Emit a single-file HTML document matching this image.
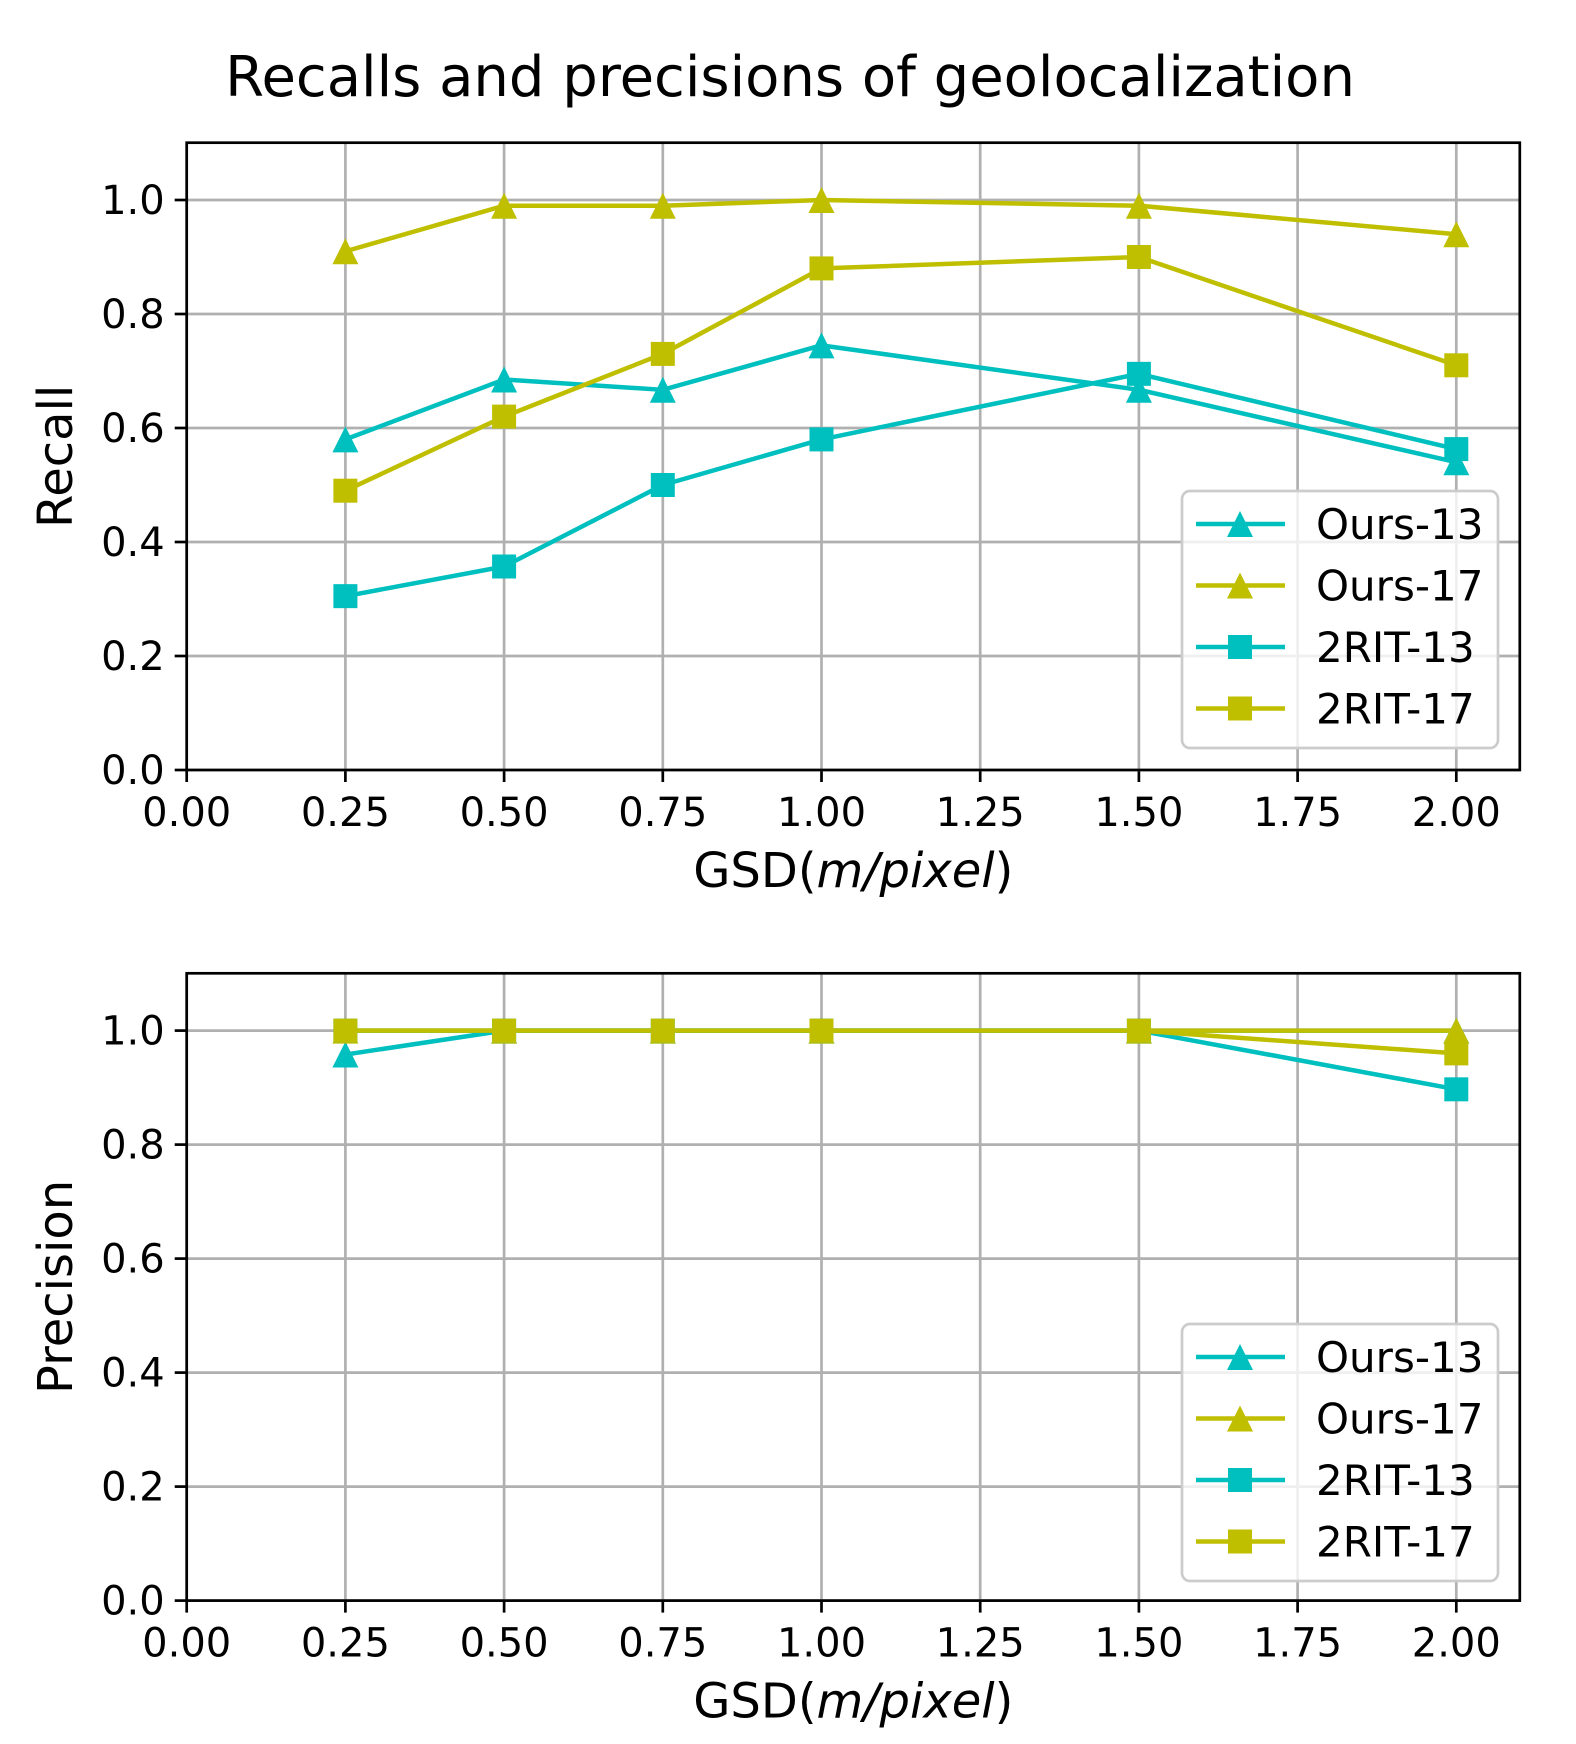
<!DOCTYPE html>
<html><head><meta charset="utf-8"><style>html,body{margin:0;padding:0;background:#fff}svg{display:block}</style></head><body>
<svg id="s" width="1576" height="1744" viewBox="0 0 1576 1744" xmlns="http://www.w3.org/2000/svg" font-family="'DejaVu Sans', 'Liberation Sans', sans-serif">
<rect width="1576" height="1744" fill="#fff"/>
<text x="790" y="96" font-size="56" text-anchor="middle">Recalls and precisions of geolocalization</text>
<g id="g"></g>
</svg>
<script>
const NS="http://www.w3.org/2000/svg";const g=document.getElementById('g');
function el(t,a,txt){const e=document.createElementNS(NS,t);for(const k in a)e.setAttribute(k,a[k]);if(txt!==undefined)e.textContent=txt;g.appendChild(e);return e;}
const X0=186.7,XS=634.8,XR=1519.8,C="#00bfbf",Y="#bfbf00";
const xs=[0.25,0.5,0.75,1,1.5,2];
function panel(top,bot,ylabel,series,leg){
  const ys=v=>bot-v*570;
  for(let i=0;i<=8;i++){const x=X0+i*0.25*XS;el('line',{x1:x,x2:x,y1:top,y2:bot,stroke:'#b0b0b0','stroke-width':2.7});
    el('line',{x1:x,x2:x,y1:bot,y2:bot+12,stroke:'#000','stroke-width':2.7});
    el('text',{x:x,y:bot+56,'font-size':40,'text-anchor':'middle'},(i*0.25).toFixed(2));}
  for(let i=0;i<=5;i++){const y=ys(i*0.2);el('line',{x1:X0,x2:XR,y1:y,y2:y,stroke:'#b0b0b0','stroke-width':2.7});
    el('line',{x1:X0-12,x2:X0,y1:y,y2:y,stroke:'#000','stroke-width':2.7});
    el('text',{x:X0-22,y:y+14,'font-size':40,'text-anchor':'end'},(i*0.2).toFixed(1));}
  series.forEach(s=>{el('polyline',{points:s.d.map((v,i)=>(X0+xs[i]*XS)+','+ys(v)).join(' '),fill:'none',stroke:s.c,'stroke-width':4.5,'stroke-linejoin':'round'});
    s.d.forEach((v,i)=>mark(X0+xs[i]*XS,ys(v),s.m,s.c));});
  el('rect',{x:X0,y:top,width:XR-X0,height:bot-top,fill:'none',stroke:'#000','stroke-width':2.7});
  el('text',{x:(X0+XR)/2,y:bot+117,'font-size':48,'text-anchor':'middle'}).innerHTML='GSD(<tspan font-style="italic">m/pixel</tspan>)';
  const cy=(top+bot)/2;el('text',{x:72,y:cy,'font-size':48,'text-anchor':'middle',transform:`rotate(-90 72 ${cy})`},ylabel);
  el('rect',{x:1182,y:leg,width:316,height:257,rx:8,fill:'#fff','fill-opacity':0.8,stroke:'#ccc','stroke-width':2.7});
  series.forEach((s,i)=>{const y=leg+33+i*61.5;el('line',{x1:1196,x2:1285,y1:y,y2:y,stroke:s.c,'stroke-width':4.5});mark(1240,y,s.m,s.c);
    el('text',{x:1316,y:y+15,'font-size':42},s.n);});
}
function mark(x,y,m,c){if(m=='t')el('polygon',{points:`${x},${y-13} ${x-13},${y+13} ${x+13},${y+13}`,fill:c});
  else el('rect',{x:x-12,y:y-12,width:24,height:24,fill:c});}
panel(142.7,770,'Recall',[
 {n:'Ours-13',c:C,m:'t',d:[0.58,0.685,0.667,0.745,0.667,0.54]},
 {n:'Ours-17',c:Y,m:'t',d:[0.91,0.99,0.99,1.0,0.99,0.94]},
 {n:'2RIT-13',c:C,m:'s',d:[0.305,0.357,0.5,0.58,0.695,0.563]},
 {n:'2RIT-17',c:Y,m:'s',d:[0.49,0.62,0.73,0.88,0.90,0.71]}],491);
panel(973.3,1600.6,'Precision',[
 {n:'Ours-13',c:C,m:'t',d:[0.958,1,1,1,1,1]},
 {n:'Ours-17',c:Y,m:'t',d:[1,1,1,1,1,1]},
 {n:'2RIT-13',c:C,m:'s',d:[1,1,1,1,1,0.897]},
 {n:'2RIT-17',c:Y,m:'s',d:[1,1,1,1,1,0.96]}],1324);
</script>
</body></html>
